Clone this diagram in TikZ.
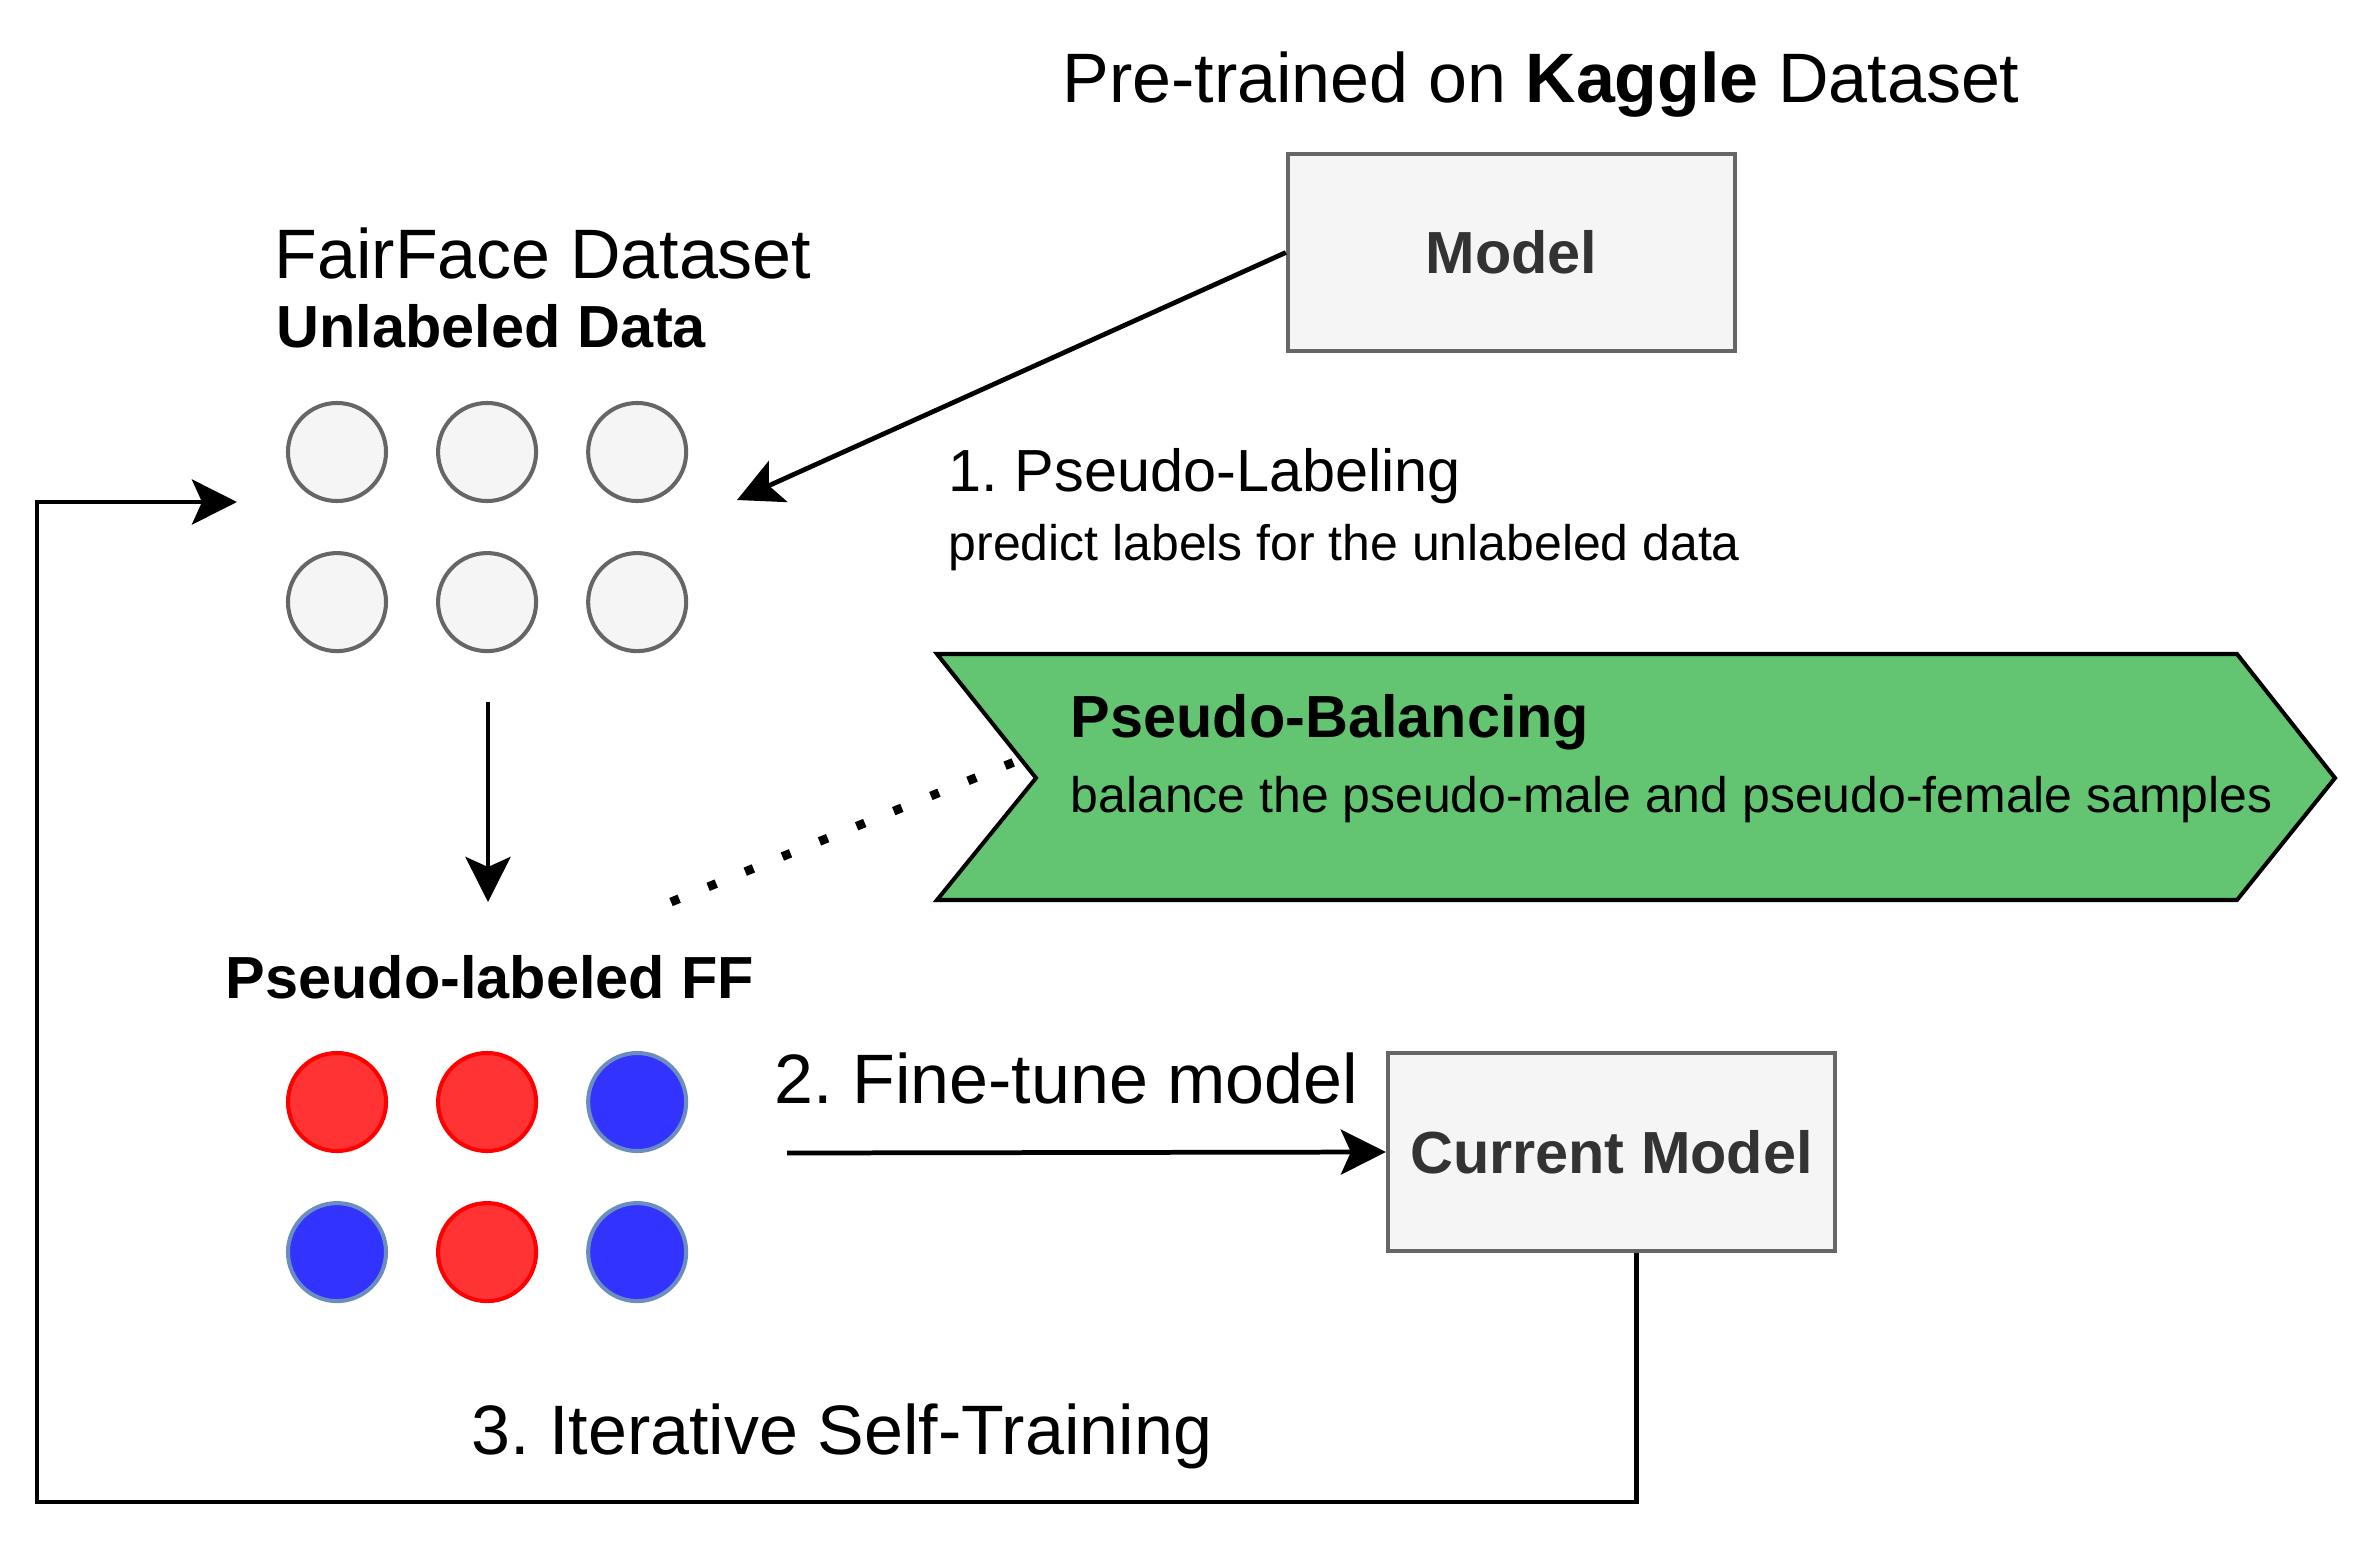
\documentclass[tikz,border=0pt]{standalone}
\usepackage{fontspec}
\setmainfont{Liberation Sans}
\usepackage{tikz}
\usetikzlibrary{
        arrows.meta,
        positioning
    }
\frenchspacing
\definecolor{boxfill}{HTML}{F5F5F5}
\definecolor{boxline}{HTML}{666666}
\definecolor{boxtext}{HTML}{333333}
\definecolor{malefill}{HTML}{3333FF}
\definecolor{maleline}{HTML}{6C8EBF}
\definecolor{femfill}{HTML}{FF3333}
\definecolor{femline}{HTML}{FF0000}
\definecolor{balfill}{HTML}{63C471}
\tikzset{>={Stealth[length=0.45cm,width=0.45cm,inset=0.1cm]},node distance=1.5cm}
\tikzset{
    modelbox/.style={draw=boxline,fill=boxfill,line width=1.15pt,minimum width=4.47cm,
        minimum height=1.97cm,inner sep=0pt,text=boxtext,font=\fontsize{16.9}{20}\selectfont\bfseries},
    graycirc/.style={circle,draw=boxline,fill=boxfill,line width=1.15pt,minimum size=0.98cm,inner sep=0pt},
    femcirc/.style={circle,draw=femline,fill=femfill,line width=1.15pt,minimum size=0.98cm,inner sep=0pt},
    malecirc/.style={circle,draw=maleline,fill=malefill,line width=1.15pt,minimum size=0.98cm,inner sep=0pt},
    flow/.style={->,line width=1.35pt},
    bigtext/.style={inner sep=0pt,font=\fontsize{19.9}{24}\selectfont},
    boldtext/.style={inner sep=0pt,font=\fontsize{16.9}{20}\selectfont\bfseries},
    steptext/.style={inner sep=0pt,font=\fontsize{16.9}{20}\selectfont},
    smalltext/.style={inner sep=0pt,font=\fontsize{14.2}{17}\selectfont}
}

\begin{document}
\begin{tikzpicture}[x=0.01cm,y=-0.01cm]
                \useasboundingbox (0,0) rectangle (2360,1545);

                    % models
                    \node[modelbox] (m0) at (1511.5,252.5) {Model};
                    \node[modelbox] (m1) at (1611.5,1152) {Current Model};
                    \node[bigtext,anchor=base] (kag) at (1541,102) {Pre-trained on \textbf{Kaggle} Dataset};

                    % unlabeled data
                    \node[bigtext,anchor=base west] (ff) at (274,278) {FairFace Dataset};
                    \node[boldtext,anchor=base west] (unl) at (276,347) {Unlabeled Data};
                    \node[graycirc] (u1) at (337,452) {};
                    \node[graycirc] (u2) [right of=u1] {};
                    \node[graycirc] (u3) [right of=u2] {};
                    \node[graycirc] (u4) [below of=u1] {};
                    \node[graycirc] (u5) [right of=u4] {};
                    \node[graycirc] (u6) [right of=u5] {};

                    % pseudo-labeled data
                    \node[boldtext,anchor=base] (pff) at (490,998) {Pseudo-labeled FF};
                    \node[femcirc] (p1) at (337,1102) {};
                    \node[femcirc] (p2) [right of=p1] {};
                    \node[malecirc] (p3) [right of=p2] {};
                    \node[malecirc] (p4) [below of=p1] {};
                    \node[femcirc] (p5) [right of=p4] {};
                    \node[malecirc] (p6) [right of=p5] {};

                    % balancing
                    \path[draw,fill=balfill,line width=1.15pt]
                        (937,654) -- (2237,654) -- (2335,778) -- (2237,900) -- (937,900) -- (1036,778) -- cycle;
                    \node[boldtext,anchor=base west] (bal) at (1070,737) {Pseudo-Balancing};
                    \node[smalltext,anchor=base west] (baltxt) at (1070,812) {balance the pseudo-male and pseudo-female samples};

                    % step labels
                    \node[steptext,anchor=base west] (s1) at (948,491) {1. Pseudo-Labeling};
                    \node[smalltext,anchor=base west] (s1txt) at (948,560) {predict labels for the unlabeled data};
                    \node[bigtext,anchor=base west] (s2) at (774,1103) {2. Fine-tune model};
                    \node[bigtext,anchor=base west] (s3) at (471,1454) {3. Iterative Self-Training};

                    \coordinate (uin) at (737,500);
                    \coordinate (udown) at (488,702);
                    \coordinate (pin) at (488,902);
                    \coordinate (pout) at (787,1153);
                    \coordinate (dotstart) at (671,902);
                    \coordinate (dotend) at (1024,758);
                    \coordinate (back) at (37,1502);
                    \coordinate (loopin) at (237,502);

                \draw[flow] (m0.west) -- (uin);
                \draw[flow] (udown) -- (pin);
                \draw[flow] (pout) -- (m1.west);
                \draw[flow] ([xshift=0.25cm]m1.south) |- (back) |- (loopin);
                \draw[line width=2.5pt,dash pattern=on 2.5pt off 8.9pt] (dotstart) -- (dotend);
            \end{tikzpicture}
\end{document}
